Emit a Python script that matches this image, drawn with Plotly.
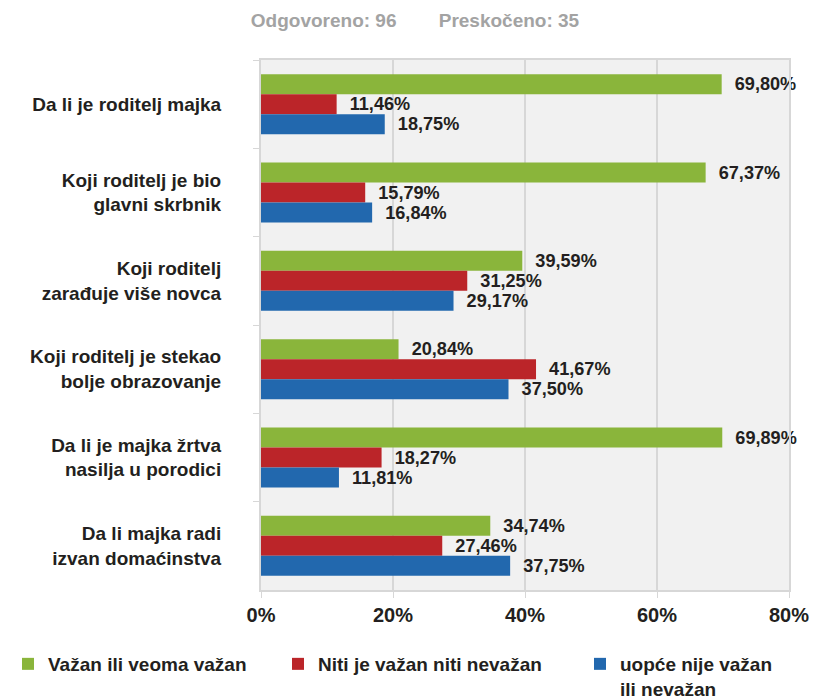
import plotly.graph_objects as go

# survey answers, percentages
categories = [
    "Da li je roditelj majka",
    "Koji roditelj je bio<br>glavni skrbnik",
    "Koji roditelj<br>zarađuje više novca",
    "Koji roditelj je stekao<br>bolje obrazovanje",
    "Da li je majka žrtva<br>nasilja u porodici",
    "Da li majka radi<br>izvan domaćinstva",
]
vazan = [69.80, 67.37, 39.59, 20.84, 69.89, 34.74]
niti = [11.46, 15.79, 31.25, 41.67, 18.27, 27.46]
nevazan = [18.75, 16.84, 29.17, 37.50, 11.81, 37.75]

series_names = ["Važan ili veoma važan", "Niti je važan niti nevažan", "uopće nije važan<br>ili nevažan"]
colors = ["#8ab53b", "#bb2529", "#2268ae"]
x_ticks = [0, 20, 40, 60, 80]

DARK = "#231f20"
FONT = "Liberation Sans, Arial, sans-serif"
W, H = 812, 691  # page adds 8px body margin
NB = "\u00a0"

def fmt(v):
    return NB * 2 + f"{v:.2f}%".replace(".", ",")

# one legend box per series so the entries sit where the original has them
legend_ids = ["legend", "legend2", "legend3"]
legend_x = [0, 270, 572]

fig = go.Figure()
for name, vals, col, lg in zip(series_names, [vazan, niti, nevazan], colors, legend_ids):
    fig.add_trace(go.Bar(
        y=categories, x=vals, name=name, orientation="h", legend=lg,
        marker=dict(color=col, line=dict(width=0)),
        text=[fmt(v) for v in vals], textposition="outside",
        textfont=dict(size=19, color=DARK, family=FONT, weight="bold"),
        cliponaxis=False,
    ))

legend_style = dict(
    orientation="h", xref="container", yref="container",
    xanchor="left", y=1 - 637 / H, yanchor="top",
    font=dict(size=19, color=DARK, family=FONT, weight="bold"),
    valign="top", bgcolor="rgba(0,0,0,0)",
)

fig.update_layout(
    width=W, height=H,
    margin=dict(l=253, r=31, t=52, b=109),
    paper_bgcolor="white", plot_bgcolor="#f1f1f1",
    barmode="group", bargap=0.32, bargroupgap=0,
    font=dict(family=FONT, color=DARK),
    title=dict(
        text="Odgovoreno: 96" + NB * 8 + "Preskočeno: 35",
        font=dict(size=19, color="#a3a3a3", family=FONT, weight="bold"),
        xref="container", x=407 / W, xanchor="center",
        yref="container", y=1 - 12 / H, yanchor="middle",
    ),
    legend=dict(legend_style, x=legend_x[0] / W),
    legend2=dict(legend_style, x=legend_x[1] / W),
    legend3=dict(legend_style, x=legend_x[2] / W),
    showlegend=True,
)

fig.update_xaxes(
    range=[0, 80], tickvals=x_ticks, ticktext=[f"{t}%" for t in x_ticks],
    showgrid=True, gridcolor="#d7d7d7", gridwidth=2,
    showline=True, linecolor="#d7d7d7", linewidth=2, mirror=True,
    ticks="outside", ticklen=6, tickcolor="#d7d7d7",
    tickfont=dict(size=20, color=DARK, family=FONT, weight="bold"),
    zeroline=False,
)
fig.update_yaxes(
    autorange="reversed", tickson="boundaries",
    ticks="outside", ticklen=6, tickcolor="#d7d7d7",
    showline=True, linecolor="#d7d7d7", linewidth=2, mirror=True,
    showgrid=False, ticklabelstandoff=34,
    tickfont=dict(size=19, color=DARK, family=FONT, weight="bold"),
)

fig.write_html("out.html")
